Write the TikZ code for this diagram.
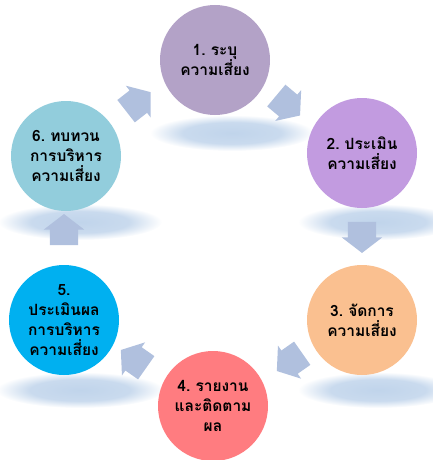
\documentclass[tikz,border=0pt]{standalone}
\usepackage{fontspec}
\newfontfamily\thaifont[Script=Thai,WordSpace=0.7]{Loma}
\usetikzlibrary{shapes.arrows}
\definecolor{identcol}{HTML}{B3A2C7}
\definecolor{assesscol}{HTML}{C29BE0}
\definecolor{managecol}{HTML}{FAC090}
\definecolor{reportcol}{HTML}{FF7C80}
\definecolor{evalcol}{HTML}{00B0F0}
\definecolor{reviewcol}{HTML}{92CDDC}
\definecolor{flowblue}{HTML}{B0C0DE}
\definecolor{hazeblue}{HTML}{C0D4EB}
\pgfdeclareradialshading{haze}{\pgfpoint{0bp}{0bp}}{color(0bp)=(hazeblue); color(15bp)=(hazeblue!85!white); color(25bp)=(white); color(50bp)=(white)}

\begin{document}
\begin{tikzpicture}[x=1pt,y=-1pt,
  stage/.style={circle,minimum size=110pt,inner sep=0pt},
  caption/.style={text width=108pt,align=center,inner sep=0pt,
    font=\thaifont\bfseries\frenchspacing\fontsize{15.5}{20}\selectfont,text=black},
  flow/.style={single arrow,fill=flowblue,draw=none,minimum height=31pt,minimum width=40pt,
    single arrow head extend=6pt,single arrow tip angle=105,inner xsep=0pt,inner ysep=14pt}]
  % reflections under the circles
  \shade[shading=haze] (232,133) ellipse (82 and 18);
  \shade[shading=haze] (378,222) ellipse (80 and 18);
  \shade[shading=haze] (378,390) ellipse (80 and 18);
  \shade[shading=haze] (80,390) ellipse (84 and 18);
  \shade[shading=haze] (80,222) ellipse (82 and 18);

  \node[flow,rotate=-40] (a12) at (284,102) {};
  \node[flow,rotate=-90] (a23) at (362,232) {};
  \node[flow,rotate=-145] (a34) at (294,359) {};
  \node[flow,rotate=145] (a45) at (138,362) {};
  \node[flow,rotate=90] (a56) at (64,235) {};
  \node[flow,rotate=38] (a61) at (134,105) {};

  \node[stage,fill=identcol,label={[caption]center:1. ระบุ\\ความเสี่ยง}] (ident) at (215,60) {};
  \node[stage,fill=assesscol,label={[caption]center:2. ประเมิน\\ความเสี่ยง}] (assess) at (362,153) {};
  \node[stage,fill=managecol,label={[caption]center:3. จัดการ\\ความเสี่ยง}] (manage) at (362,320) {};
  \node[stage,fill=reportcol,label={[caption]center:4. รายงาน\\และติดตาม\\ผล}] (report) at (213,406) {};
  \node[stage,fill=evalcol,label={[caption]center:5.\\ประเมินผล\\การบริหาร\\ความเสี่ยง}] (eval) at (64,320) {};
  \node[stage,fill=reviewcol,label={[caption]center:6. ทบทวน\\การบริหาร\\ความเสี่ยง}] (review) at (66,156) {};

  \pgfresetboundingbox
  \useasboundingbox (0,0) rectangle (433,460);
\end{tikzpicture}
\end{document}
